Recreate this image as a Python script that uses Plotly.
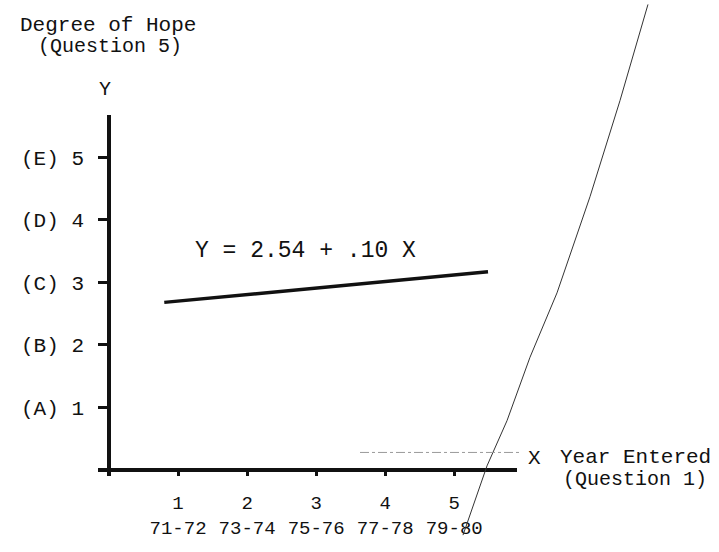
import plotly.graph_objects as go

# ---- data ----
x_ticks = [1, 2, 3, 4, 5]
x_numbers = ["1", "2", "3", "4", "5"]
x_years = ["71-72", "73-74", "75-76", "77-78", "79-80"]
y_ticks = [1, 2, 3, 4, 5]
y_letters = ["(A)", "(B)", "(C)", "(D)", "(E)"]
fit_x = [0.80, 5.49]
fit_y = [2.68, 3.17]
equation = "Y = 2.54 + .10 X"

W, H = 719, 552
L, R, T, B = 98, 517, 115, 490.5
FONT = "Liberation Mono"
INK = "#111111"


def px(xpix):
    return (xpix - L) / (R - L)


def py(ypix):
    return (B - ypix) / (B - T)


fig = go.Figure()
fig.add_trace(go.Scatter(
    x=fit_x, y=fit_y, mode="lines",
    line=dict(color=INK, width=3.5), showlegend=False, hoverinfo="skip"))

fig.update_xaxes(
    range=[-0.16, 5.91], showgrid=False, showline=False,
    zeroline=True, zerolinecolor=INK, zerolinewidth=3.5,
    tickvals=x_ticks,
    ticktext=[f"{n}<br>{y}" for n, y in zip(x_numbers, x_years)],
    ticks="inside", ticklen=6, tickwidth=3, tickcolor=INK,
    tickfont=dict(family=FONT, size=19, color=INK),
    ticklabelstandoff=13, fixedrange=True)
fig.update_yaxes(
    range=[-0.1, 5.68], showgrid=False, showline=False,
    zeroline=True, zerolinecolor=INK, zerolinewidth=3.5,
    tickvals=y_ticks,
    ticktext=[f"{l} {v}" for l, v in zip(y_letters, y_ticks)],
    ticks="inside", ticklen=10, tickwidth=2.5, tickcolor=INK,
    tickfont=dict(family=FONT, size=21, color=INK),
    ticklabelstandoff=13, fixedrange=True)

ann = [
    ("Degree of Hope", 108, 22, 21),
    ("(Question 5)", 110, 44, 20),
    ("Y", 105, 88, 20),
    ("X", 534, 472, 21),
    ("Year Entered", 635, 471, 21),
    ("(Question 1)", 635, 494, 20),
]
for text, xx, yy, sz in ann:
    fig.add_annotation(text=text, x=px(xx), y=py(yy), xref="paper", yref="paper",
                       showarrow=False, xanchor="center", yanchor="middle",
                       font=dict(family=FONT, size=sz, color=INK))

fig.add_annotation(text=equation, x=px(305), y=py(256), xref="paper", yref="paper",
                   showarrow=False, xanchor="center", yanchor="middle",
                   font=dict(family=FONT, size=23, color=INK))

# thin scan artifact lines
curve_pts = [(648, 0), (620, 100), (590, 200), (557, 300), (530, 367),
             (507, 433), (487, 480), (463, 552)]
path = "M " + " L ".join(f"{px(a):.4f},{py(b):.4f}" for a, b in curve_pts)
fig.add_shape(type="path", path=path, xref="paper", yref="paper",
              line=dict(color="#333333", width=1))
fig.add_shape(type="line", x0=px(360), x1=px(520), y0=py(466), y1=py(466),
              xref="paper", yref="paper",
              line=dict(color="#9a9a9a", width=1, dash="dashdot"))

fig.update_layout(
    width=W, height=H,
    margin=dict(l=L, r=W - R, t=T, b=H - B, pad=0),
    paper_bgcolor="white", plot_bgcolor="white",
    showlegend=False,
)

fig.write_html("out.html", config={"displayModeBar": False},
               post_script="document.body.style.margin='0px';")
